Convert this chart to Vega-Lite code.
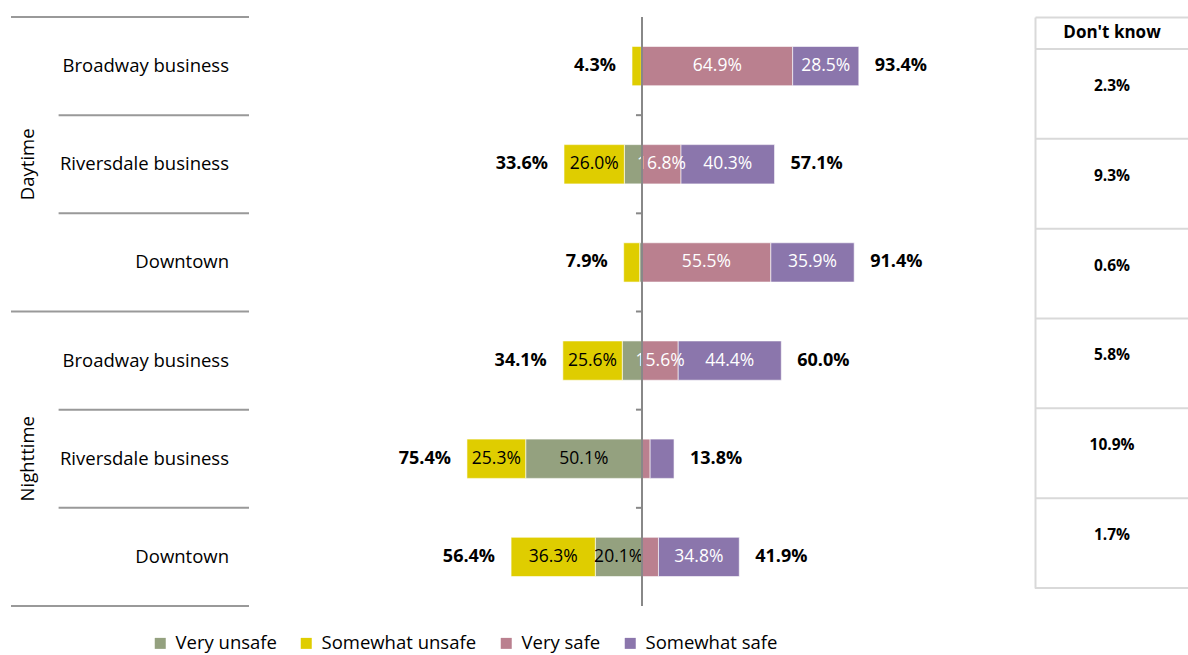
{
  "$schema": "https://vega.github.io/schema/vega-lite/v6.json",
  "padding": {"left": 10, "top": 16, "right": 0, "bottom": 0},
  "background": "white",
  "config": {"font": "Open Sans", "view": {"stroke": null}},
  "bounds": "flush",
  "spacing": 3,
  "datasets": {
    "segments": [
      {"period": "Daytime", "location": "Broadway business", "category": "Very unsafe", "value": 0.3},
      {"period": "Daytime", "location": "Broadway business", "category": "Somewhat unsafe", "value": 4.0},
      {"period": "Daytime", "location": "Broadway business", "category": "Very safe", "value": 64.9},
      {"period": "Daytime", "location": "Broadway business", "category": "Somewhat safe", "value": 28.5},
      {"period": "Daytime", "location": "Riversdale business", "category": "Very unsafe", "value": 7.6},
      {"period": "Daytime", "location": "Riversdale business", "category": "Somewhat unsafe", "value": 26.0},
      {"period": "Daytime", "location": "Riversdale business", "category": "Very safe", "value": 16.8},
      {"period": "Daytime", "location": "Riversdale business", "category": "Somewhat safe", "value": 40.3},
      {"period": "Daytime", "location": "Downtown", "category": "Very unsafe", "value": 1.0},
      {"period": "Daytime", "location": "Downtown", "category": "Somewhat unsafe", "value": 6.9},
      {"period": "Daytime", "location": "Downtown", "category": "Very safe", "value": 55.5},
      {"period": "Daytime", "location": "Downtown", "category": "Somewhat safe", "value": 35.9},
      {"period": "Nighttime", "location": "Broadway business", "category": "Very unsafe", "value": 8.5},
      {"period": "Nighttime", "location": "Broadway business", "category": "Somewhat unsafe", "value": 25.6},
      {"period": "Nighttime", "location": "Broadway business", "category": "Very safe", "value": 15.6},
      {"period": "Nighttime", "location": "Broadway business", "category": "Somewhat safe", "value": 44.4},
      {"period": "Nighttime", "location": "Riversdale business", "category": "Very unsafe", "value": 50.1},
      {"period": "Nighttime", "location": "Riversdale business", "category": "Somewhat unsafe", "value": 25.3},
      {"period": "Nighttime", "location": "Riversdale business", "category": "Very safe", "value": 3.5},
      {"period": "Nighttime", "location": "Riversdale business", "category": "Somewhat safe", "value": 10.3},
      {"period": "Nighttime", "location": "Downtown", "category": "Very unsafe", "value": 20.1},
      {"period": "Nighttime", "location": "Downtown", "category": "Somewhat unsafe", "value": 36.3},
      {"period": "Nighttime", "location": "Downtown", "category": "Very safe", "value": 7.1},
      {"period": "Nighttime", "location": "Downtown", "category": "Somewhat safe", "value": 34.8}
    ],
    "rows": [
      {"period": "Daytime", "location": "Broadway business", "dontknow": 2.3},
      {"period": "Daytime", "location": "Riversdale business", "dontknow": 9.3},
      {"period": "Daytime", "location": "Downtown", "dontknow": 0.6},
      {"period": "Nighttime", "location": "Broadway business", "dontknow": 5.8},
      {"period": "Nighttime", "location": "Riversdale business", "dontknow": 10.9},
      {"period": "Nighttime", "location": "Downtown", "dontknow": 1.7}
    ]
  },
  "hconcat": [
    {
      "width": 238,
      "height": 589,
      "data": {"name": "rows"},
      "transform": [{"calculate": "datum.period + '|' + datum.location", "as": "key"}],
      "layer": [
        {
          "mark": {"type": "text", "align": "right", "baseline": "middle", "fontSize": 18.5, "color": "#000000"},
          "encoding": {
            "x": {"datum": 0.916, "type": "quantitative", "scale": {"domain": [0, 1], "nice": false}, "axis": null},
            "y": {"field": "key", "type": "nominal", "scale": {"type": "band", "domain": ["Daytime|Broadway business", "Daytime|Riversdale business", "Daytime|Downtown", "Nighttime|Broadway business", "Nighttime|Riversdale business", "Nighttime|Downtown"], "paddingInner": 0, "paddingOuter": 0}, "axis": null},
            "text": {"field": "location"}
          }
        },
        {
          "transform": [{"filter": "datum.location == 'Riversdale business'"}],
          "mark": {"type": "text", "angle": 270, "align": "center", "baseline": "middle", "fontSize": 18.5, "color": "#000000"},
          "encoding": {
            "x": {"datum": 0.0714, "type": "quantitative"},
            "y": {"field": "key", "type": "nominal"},
            "text": {"field": "period"}
          }
        },
        {
          "transform": [{"filter": "datum.location != 'Broadway business'"}],
          "mark": {"type": "rule", "color": "#999999", "strokeWidth": 2},
          "encoding": {
            "x": {"datum": 0.2, "type": "quantitative"},
            "x2": {"datum": 1},
            "y": {"field": "key", "type": "nominal", "bandPosition": 0}
          }
        },
        {
          "transform": [{"filter": "datum.location == 'Broadway business'"}],
          "mark": {"type": "rule", "color": "#999999", "strokeWidth": 2},
          "encoding": {
            "y": {"field": "key", "type": "nominal", "bandPosition": 0}
          }
        },
        {
          "transform": [{"filter": "datum.key == 'Nighttime|Downtown'"}],
          "mark": {"type": "rule", "color": "#999999", "strokeWidth": 2},
          "encoding": {
            "y": {"field": "key", "type": "nominal", "bandPosition": 1}
          }
        }
      ]
    },
    {
      "width": 780,
      "height": 589,
      "data": {"name": "segments"},
      "transform": [
        {"calculate": "datum.period + '|' + datum.location", "as": "key"},
        {"calculate": "indexof(['Very unsafe','Somewhat unsafe'], datum.category) >= 0 ? 'unsafe' : 'safe'", "as": "side"},
        {"calculate": "indexof(['Very unsafe','Somewhat unsafe','Very safe','Somewhat safe'], datum.category)", "as": "ord"},
        {"calculate": "datum.side == 'unsafe' ? -datum.value : datum.value", "as": "signed"}
      ],
      "layer": [
        {
          "transform": [{"stack": "signed", "groupby": ["key"], "sort": [{"field": "ord", "order": "ascending"}], "as": ["x0", "x1"]}],
          "mark": {"type": "bar", "height": {"band": 0.4}, "stroke": "#ffffff", "strokeWidth": 0.6},
          "encoding": {
            "x": {"field": "x0", "type": "quantitative", "scale": {"domain": [-168, 168], "nice": false, "zero": false}, "axis": null},
            "x2": {"field": "x1"},
            "y": {"field": "key", "type": "nominal", "scale": {"type": "band", "domain": ["Daytime|Broadway business", "Daytime|Riversdale business", "Daytime|Downtown", "Nighttime|Broadway business", "Nighttime|Riversdale business", "Nighttime|Downtown"], "paddingInner": 0, "paddingOuter": 0}, "axis": null},
            "color": {
              "field": "category", "type": "nominal",
              "scale": {"domain": ["Very unsafe", "Somewhat unsafe", "Very safe", "Somewhat safe"], "range": ["#94A17F", "#DFCD00", "#BA808F", "#8B76AC"]},
              "legend": {"orient": "none", "legendX": 140, "legendY": 617, "direction": "horizontal", "title": null, "symbolType": "square", "symbolSize": 121, "symbolStrokeWidth": 0, "labelFontSize": 18.5, "labelColor": "#000000", "columnPadding": 20, "labelOffset": 6}
            }
          }
        },
        {
          "transform": [
            {"stack": "signed", "groupby": ["key"], "sort": [{"field": "ord", "order": "ascending"}], "as": ["x0", "x1"]},
            {"calculate": "(datum.x0 + datum.x1) / 2", "as": "mid"},
            {"calculate": "format(datum.value, '.1f') + '%'", "as": "label"},
            {"filter": "datum.value >= 15"}
          ],
          "mark": {"type": "text", "fontSize": 17.5, "baseline": "middle", "align": "center"},
          "encoding": {
            "x": {"field": "mid", "type": "quantitative"},
            "y": {"field": "key", "type": "nominal"},
            "text": {"field": "label"},
            "color": {"condition": {"test": "datum.side == 'safe'", "value": "#ffffff"}, "value": "#000000"}
          }
        },
        {
          "transform": [
            {"aggregate": [{"op": "sum", "field": "signed", "as": "total"}], "groupby": ["key", "side"]},
            {"filter": "datum.side == 'unsafe'"},
            {"calculate": "format(abs(datum.total), '.1f') + '%'", "as": "label"}
          ],
          "mark": {"type": "text", "fontSize": 18, "fontWeight": "bold", "align": "right", "baseline": "middle", "dx": -16, "color": "#000000"},
          "encoding": {
            "x": {"field": "total", "type": "quantitative"},
            "y": {"field": "key", "type": "nominal"},
            "text": {"field": "label"}
          }
        },
        {
          "transform": [
            {"aggregate": [{"op": "sum", "field": "signed", "as": "total"}], "groupby": ["key", "side"]},
            {"filter": "datum.side == 'safe'"},
            {"calculate": "format(abs(datum.total), '.1f') + '%'", "as": "label"}
          ],
          "mark": {"type": "text", "fontSize": 18, "fontWeight": "bold", "align": "left", "baseline": "middle", "dx": 16, "color": "#000000"},
          "encoding": {
            "x": {"field": "total", "type": "quantitative"},
            "y": {"field": "key", "type": "nominal"},
            "text": {"field": "label"}
          }
        },
        {
          "mark": {"type": "rule", "color": "#888888", "strokeWidth": 2},
          "encoding": {"x": {"datum": 0, "type": "quantitative"}}
        },
        {
          "transform": [{"filter": "datum.category == 'Very unsafe' && datum.key != 'Daytime|Broadway business'"}],
          "mark": {"type": "rule", "color": "#888888", "strokeWidth": 2},
          "encoding": {
            "x": {"datum": -2.6, "type": "quantitative"},
            "x2": {"datum": 0},
            "y": {"field": "key", "type": "nominal", "bandPosition": 0}
          }
        }
      ]
    },
    {
      "vconcat": [
        {
          "width": 154,
          "height": 32,
          "data": {"values": [{"label": "Don't know"}]},
          "mark": {"type": "text", "fontWeight": "bold", "fontSize": 17, "color": "#000000"},
          "encoding": {
            "x": {"field": "label", "type": "nominal", "axis": {"orient": "top", "labels": false, "ticks": false, "title": null, "domainColor": "#d9d9d9", "domainWidth": 2}},
            "y": {"field": "label", "type": "nominal", "axis": {"orient": "left", "labels": false, "ticks": false, "title": null, "domainColor": "#d9d9d9", "domainWidth": 2}},
            "text": {"field": "label"}
          }
        },
        {
          "width": 154,
          "height": 539,
          "data": {"name": "rows"},
          "transform": [
            {"calculate": "datum.period + '|' + datum.location", "as": "key"},
            {"calculate": "format(datum.dontknow, '.1f') + '%'", "as": "label"}
          ],
          "encoding": {
            "y": {"field": "key", "type": "nominal", "scale": {"type": "band", "domain": ["Daytime|Broadway business", "Daytime|Riversdale business", "Daytime|Downtown", "Nighttime|Broadway business", "Nighttime|Riversdale business", "Nighttime|Downtown"], "paddingInner": 0, "paddingOuter": 0}, "axis": {"orient": "left", "labels": false, "ticks": false, "title": null, "domainColor": "#d9d9d9", "domainWidth": 2}}
          },
          "layer": [
            {
              "mark": {"type": "text", "fontWeight": "bold", "fontSize": 15.5, "dy": -8, "color": "#000000"},
              "encoding": {"text": {"field": "label"}}
            },
            {
              "mark": {"type": "rule", "color": "#d9d9d9", "strokeWidth": 2},
              "encoding": {"y": {"field": "key", "type": "nominal", "bandPosition": 0}}
            },
            {
              "transform": [{"filter": "datum.key == 'Nighttime|Downtown'"}],
              "mark": {"type": "rule", "color": "#d9d9d9", "strokeWidth": 2},
              "encoding": {"y": {"field": "key", "type": "nominal", "bandPosition": 1}}
            }
          ]
        }
      ],
      "spacing": 0,
      "bounds": "flush"
    }
  ]
}
